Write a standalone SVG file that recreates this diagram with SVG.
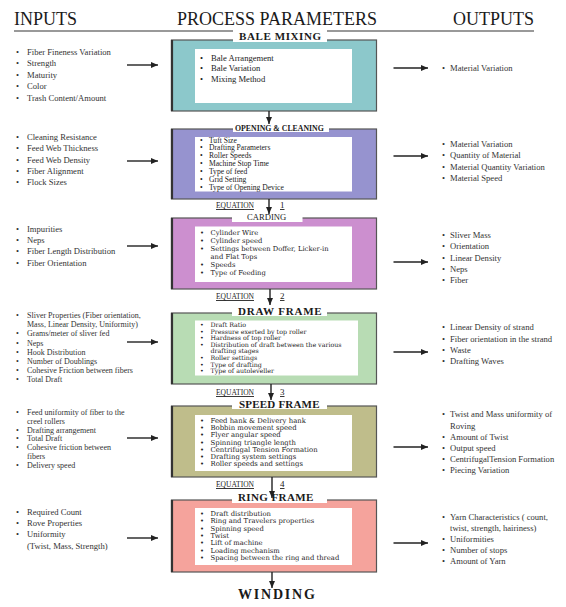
<svg xmlns="http://www.w3.org/2000/svg" width="566" height="607" viewBox="0 0 566 607">
<defs>
<marker id="ah" markerUnits="userSpaceOnUse" markerWidth="7" markerHeight="6" refX="7" refY="3" orient="auto"><path d="M0,0 L7,3 L0,6 z" fill="#222"/></marker>
<style>
.hdr{font-family:"Liberation Serif",serif;font-size:18px;fill:#1a1a1a}
.li{font-family:"Liberation Serif",serif;font-size:8.6px;fill:#333}
.ls{font-family:"Liberation Serif",serif;font-size:8px;fill:#333}
.p1{font-family:"Liberation Serif",serif;font-size:8.6px;fill:#222}
.p2{font-family:"Liberation Serif",serif;font-size:7.6px;fill:#222}
.pd{font-family:"DejaVu Serif",serif;fill:#222}
.lbl{font-family:"Liberation Serif",serif;font-weight:bold;fill:#1a1a1a}
.eq{font-family:"Liberation Serif",serif;font-size:9px;fill:#222;text-decoration:underline}
.box{stroke:#555;stroke-width:1.2}
.edge{stroke:#333;stroke-width:2.2}
.inner{fill:#fff}
.lb{fill:#fff}
.arr{stroke:#222;stroke-width:1.4;fill:none}
</style>
</defs>
<rect width="566" height="607" fill="#fff"/>
<g id="headers">
<text class="hdr" x="14" y="25">INPUTS</text>
<text class="hdr" x="177" y="25">PROCESS PARAMETERS</text>
<text class="hdr" x="453" y="25">OUTPUTS</text>
<line x1="14" y1="31" x2="534" y2="31" stroke="#777" stroke-width="1.5"/>
</g>

<g id="bale-mixing">
<rect class="box" x="171.5" y="40" width="205" height="71" fill="#8cc8cb"/>
<line class="edge" x1="172" y1="40" x2="172" y2="111"/>
<rect class="inner" x="195" y="49" width="157" height="54"/>
<rect class="lb" x="233" y="30" width="94" height="12"/>
<text class="lbl" x="239" y="40" font-size="11" letter-spacing="0.6">BALE MIXING</text>
<text class="p1"><tspan x="200" y="60.5">•</tspan><tspan x="211">Bale Arrangement</tspan></text>
<text class="p1"><tspan x="200" y="71">•</tspan><tspan x="211">Bale Variation</tspan></text>
<text class="p1"><tspan x="200" y="81.5">•</tspan><tspan x="211">Mixing Method</tspan></text>
</g>
<g id="inputs-1">
<text class="li"><tspan x="16" y="54.5">•</tspan><tspan x="27">Fiber Fineness Variation</tspan></text>
<text class="li"><tspan x="16" y="66">•</tspan><tspan x="27">Strength</tspan></text>
<text class="li"><tspan x="16" y="77.5">•</tspan><tspan x="27">Maturity</tspan></text>
<text class="li"><tspan x="16" y="89">•</tspan><tspan x="27">Color</tspan></text>
<text class="li"><tspan x="16" y="100.5">•</tspan><tspan x="27">Trash Content/Amount</tspan></text>
</g>
<g id="outputs-1">
<text class="li"><tspan x="442" y="71">•</tspan><tspan x="450">Material Variation</tspan></text>
</g>

<g id="opening-cleaning">
<rect class="box" x="171.5" y="129" width="205" height="70" fill="#9693cf"/>
<line class="edge" x1="172" y1="129" x2="172" y2="199"/>
<rect class="inner" x="195" y="137" width="157" height="54.5"/>
<rect class="lb" x="233" y="121" width="96" height="11"/>
<text class="lbl" x="235" y="131" font-size="7.8">OPENING &amp; CLEANING</text>
<text class="p2"><tspan x="200" y="142.5">•</tspan><tspan x="209">Tuft Size</tspan></text>
<text class="p2"><tspan x="200" y="150.4">•</tspan><tspan x="209">Drafting Parameters</tspan></text>
<text class="p2"><tspan x="200" y="158.1">•</tspan><tspan x="209">Roller Speeds</tspan></text>
<text class="p2"><tspan x="200" y="165.8">•</tspan><tspan x="209">Machine Stop Time</tspan></text>
<text class="p2"><tspan x="200" y="173.7">•</tspan><tspan x="209">Type of feed</tspan></text>
<text class="p2"><tspan x="200" y="181.8">•</tspan><tspan x="209">Grid Setting</tspan></text>
<text class="p2"><tspan x="200" y="189.5">•</tspan><tspan x="209">Type of Opening Device</tspan></text>
</g>
<g id="inputs-2">
<text class="li"><tspan x="16" y="140">•</tspan><tspan x="27">Cleaning Resistance</tspan></text>
<text class="li"><tspan x="16" y="151.3">•</tspan><tspan x="27">Feed Web Thickness</tspan></text>
<text class="li"><tspan x="16" y="162.6">•</tspan><tspan x="27">Feed Web Density</tspan></text>
<text class="li"><tspan x="16" y="174">•</tspan><tspan x="27">Fiber Alignment</tspan></text>
<text class="li"><tspan x="16" y="185.3">•</tspan><tspan x="27">Flock Sizes</tspan></text>
</g>
<g id="outputs-2">
<text class="li"><tspan x="442" y="147">•</tspan><tspan x="450">Material Variation</tspan></text>
<text class="li"><tspan x="442" y="158.3">•</tspan><tspan x="450">Quantity of Material</tspan></text>
<text class="li"><tspan x="442" y="169.6">•</tspan><tspan x="450">Material Quantity Variation</tspan></text>
<text class="li"><tspan x="442" y="181">•</tspan><tspan x="450">Material Speed</tspan></text>
</g>

<g id="carding">
<rect class="box" x="171.5" y="218" width="205" height="71" fill="#cc8fcf"/>
<line class="edge" x1="172" y1="218" x2="172" y2="289"/>
<rect class="inner" x="195" y="226.5" width="157" height="55.5"/>
<rect class="lb" x="232" y="210" width="70.5" height="12"/>
<text class="p1" x="247" y="219.5" font-size="9">CARDING</text>
<text class="pd" font-size="6.8"><tspan x="200" y="235">•</tspan><tspan x="210.5">Cylinder Wire</tspan></text>
<text class="pd" font-size="6.8"><tspan x="200" y="242.9">•</tspan><tspan x="210.5">Cylinder speed</tspan></text>
<text class="pd" font-size="6.8"><tspan x="200" y="250.8">•</tspan><tspan x="210.5">Settings between Doffer, Licker-in</tspan></text>
<text class="pd" font-size="6.8" x="210.5" y="258.7">and Flat Tops</text>
<text class="pd" font-size="6.8"><tspan x="200" y="266.6">•</tspan><tspan x="210.5">Speeds</tspan></text>
<text class="pd" font-size="6.8"><tspan x="200" y="274.5">•</tspan><tspan x="210.5">Type of Feeding</tspan></text>
</g>
<g id="inputs-3">
<text class="li"><tspan x="16" y="231.5">•</tspan><tspan x="27">Impurities</tspan></text>
<text class="li"><tspan x="16" y="243">•</tspan><tspan x="27">Neps</tspan></text>
<text class="li"><tspan x="16" y="254.3">•</tspan><tspan x="27">Fiber Length Distribution</tspan></text>
<text class="li"><tspan x="16" y="265.6">•</tspan><tspan x="27">Fiber Orientation</tspan></text>
</g>
<g id="outputs-3">
<text class="li"><tspan x="442" y="237.5">•</tspan><tspan x="450">Sliver Mass</tspan></text>
<text class="li"><tspan x="442" y="249">•</tspan><tspan x="450">Orientation</tspan></text>
<text class="li"><tspan x="442" y="260.5">•</tspan><tspan x="450">Linear Density</tspan></text>
<text class="li"><tspan x="442" y="272">•</tspan><tspan x="450">Neps</tspan></text>
<text class="li"><tspan x="442" y="283.3">•</tspan><tspan x="450">Fiber</tspan></text>
</g>

<g id="draw-frame">
<rect class="box" x="171.5" y="313" width="205" height="71" fill="#b8dcb4"/>
<line class="edge" x1="172" y1="313" x2="172" y2="384"/>
<rect class="inner" x="195" y="320.5" width="163" height="55"/>
<rect class="lb" x="232" y="303" width="95" height="13"/>
<text class="lbl" x="238" y="315" font-size="11" letter-spacing="0.8">DRAW FRAME</text>
<text class="pd" font-size="6.3"><tspan x="200" y="327">•</tspan><tspan x="210.5">Draft Ratio</tspan></text>
<text class="pd" font-size="6.3"><tspan x="200" y="333.6">•</tspan><tspan x="210.5">Pressure exerted by top roller</tspan></text>
<text class="pd" font-size="6.3"><tspan x="200" y="340.2">•</tspan><tspan x="210.5">Hardness of top roller</tspan></text>
<text class="pd" font-size="6.3"><tspan x="200" y="346.8">•</tspan><tspan x="210.5">Distribution of draft between the various</tspan></text>
<text class="pd" font-size="6.3" x="210.5" y="353.4">drafting stages</text>
<text class="pd" font-size="6.3"><tspan x="200" y="360">•</tspan><tspan x="210.5">Roller settings</tspan></text>
<text class="pd" font-size="6.3"><tspan x="200" y="366.6">•</tspan><tspan x="210.5">Type of drafting</tspan></text>
<text class="pd" font-size="6.3"><tspan x="200" y="373.2">•</tspan><tspan x="210.5">Type of autoleveller</tspan></text>
</g>
<g id="inputs-4">
<text class="ls"><tspan x="16" y="317.8">•</tspan><tspan x="27">Sliver Properties (Fiber orientation,</tspan></text>
<text class="ls" x="27" y="326.8">Mass, Linear Density, Uniformity)</text>
<text class="ls"><tspan x="16" y="336">•</tspan><tspan x="27">Grams/meter of sliver fed</tspan></text>
<text class="ls"><tspan x="16" y="345.5">•</tspan><tspan x="27">Neps</tspan></text>
<text class="ls"><tspan x="16" y="354.6">•</tspan><tspan x="27">Hook Distribution</tspan></text>
<text class="ls"><tspan x="16" y="363.8">•</tspan><tspan x="27">Number of Doublings</tspan></text>
<text class="ls"><tspan x="16" y="373">•</tspan><tspan x="27">Cohesive Friction between fibers</tspan></text>
<text class="ls"><tspan x="16" y="382">•</tspan><tspan x="27">Total Draft</tspan></text>
</g>
<g id="outputs-4">
<text class="li"><tspan x="442" y="330.3">•</tspan><tspan x="450">Linear Density of strand</tspan></text>
<text class="li"><tspan x="442" y="341.5">•</tspan><tspan x="450">Fiber orientation in the strand</tspan></text>
<text class="li"><tspan x="442" y="352.5">•</tspan><tspan x="450">Waste</tspan></text>
<text class="li"><tspan x="442" y="364">•</tspan><tspan x="450">Drafting Waves</tspan></text>
</g>

<g id="speed-frame">
<rect class="box" x="171.5" y="406" width="205" height="71" fill="#bfbd8b"/>
<line class="edge" x1="172" y1="406" x2="172" y2="477"/>
<rect class="inner" x="195" y="415" width="157" height="56"/>
<rect class="lb" x="232" y="397" width="95" height="12"/>
<text class="lbl" x="239" y="408" font-size="11" letter-spacing="0.2">SPEED FRAME</text>
<text class="pd" font-size="6.9"><tspan x="200" y="423">•</tspan><tspan x="210.5">Feed hank &amp; Delivery hank</tspan></text>
<text class="pd" font-size="6.9"><tspan x="200" y="430.2">•</tspan><tspan x="210.5">Bobbin movement speed</tspan></text>
<text class="pd" font-size="6.9"><tspan x="200" y="437.4">•</tspan><tspan x="210.5">Flyer angular speed</tspan></text>
<text class="pd" font-size="6.9"><tspan x="200" y="444.6">•</tspan><tspan x="210.5">Spinning triangle length</tspan></text>
<text class="pd" font-size="6.9"><tspan x="200" y="451.8">•</tspan><tspan x="210.5">Centrifugal Tension Formation</tspan></text>
<text class="pd" font-size="6.9"><tspan x="200" y="459">•</tspan><tspan x="210.5">Drafting system settings</tspan></text>
<text class="pd" font-size="6.9"><tspan x="200" y="466.2">•</tspan><tspan x="210.5">Roller speeds and settings</tspan></text>
</g>
<g id="inputs-5">
<text class="ls"><tspan x="16" y="415">•</tspan><tspan x="27">Feed uniformity of fiber to the</tspan></text>
<text class="ls" x="27" y="423.8">creel rollers</text>
<text class="ls"><tspan x="16" y="432.6">•</tspan><tspan x="27">Drafting arrangement</tspan></text>
<text class="ls"><tspan x="16" y="441.4">•</tspan><tspan x="27">Total Draft</tspan></text>
<text class="ls"><tspan x="16" y="450.2">•</tspan><tspan x="27">Cohesive friction between</tspan></text>
<text class="ls" x="27" y="459">fibers</text>
<text class="ls"><tspan x="16" y="467.8">•</tspan><tspan x="27">Delivery speed</tspan></text>
</g>
<g id="outputs-5">
<text class="li"><tspan x="442" y="417.3">•</tspan><tspan x="450">Twist and Mass uniformity of</tspan></text>
<text class="li" x="450" y="428.5">Roving</text>
<text class="li"><tspan x="442" y="439.7">•</tspan><tspan x="450">Amount of Twist</tspan></text>
<text class="li"><tspan x="442" y="450.9">•</tspan><tspan x="450">Output speed</tspan></text>
<text class="li"><tspan x="442" y="462">•</tspan><tspan x="450">CentrifugalTension Formation</tspan></text>
<text class="li"><tspan x="442" y="473">•</tspan><tspan x="450">Piecing Variation</tspan></text>
</g>

<g id="ring-frame">
<rect class="box" x="171.5" y="500" width="205" height="72" fill="#f5a39c"/>
<line class="edge" x1="172" y1="500" x2="172" y2="572"/>
<rect class="inner" x="195" y="508" width="157" height="57"/>
<rect class="lb" x="232" y="491" width="95" height="12"/>
<text class="lbl" x="238" y="501" font-size="11" letter-spacing="0.4">RING FRAME</text>
<text class="pd" font-size="6.8"><tspan x="200" y="515.5">•</tspan><tspan x="210.5">Draft distribution</tspan></text>
<text class="pd" font-size="6.8"><tspan x="200" y="523">•</tspan><tspan x="210.5">Ring and Travelers properties</tspan></text>
<text class="pd" font-size="6.8"><tspan x="200" y="530.5">•</tspan><tspan x="210.5">Spinning speed</tspan></text>
<text class="pd" font-size="6.8"><tspan x="200" y="538">•</tspan><tspan x="210.5">Twist</tspan></text>
<text class="pd" font-size="6.8"><tspan x="200" y="545.2">•</tspan><tspan x="210.5">Lift of machine</tspan></text>
<text class="pd" font-size="6.8"><tspan x="200" y="552.5">•</tspan><tspan x="210.5">Loading mechanism</tspan></text>
<text class="pd" font-size="6.8"><tspan x="200" y="560">•</tspan><tspan x="210.5">Spacing between the ring and thread</tspan></text>
</g>
<g id="inputs-6">
<text class="li"><tspan x="16" y="514.7">•</tspan><tspan x="27">Required Count</tspan></text>
<text class="li"><tspan x="16" y="526">•</tspan><tspan x="27">Rove Properties</tspan></text>
<text class="li"><tspan x="16" y="537.3">•</tspan><tspan x="27">Uniformity</tspan></text>
<text class="li" x="27" y="548.6">(Twist, Mass, Strength)</text>
</g>
<g id="outputs-6">
<text class="li"><tspan x="442" y="519.7">•</tspan><tspan x="450">Yarn Characteristics ( count,</tspan></text>
<text class="li" x="450" y="530.6">twist, strength, hairiness)</text>
<text class="li"><tspan x="442" y="541.5">•</tspan><tspan x="450">Uniformities</tspan></text>
<text class="li"><tspan x="442" y="552.5">•</tspan><tspan x="450">Number of stops</tspan></text>
<text class="li"><tspan x="442" y="563.6">•</tspan><tspan x="450">Amount of Yarn</tspan></text>
</g>

<g id="winding">
<text class="lbl" x="238" y="599" font-size="14" letter-spacing="1.8">WINDING</text>
</g>

<g id="connectors">
<line class="arr" x1="127" y1="65" x2="158" y2="65" marker-end="url(#ah)"/>
<line class="arr" x1="393.5" y1="68" x2="428" y2="68" marker-end="url(#ah)"/>
<line class="arr" x1="127" y1="161" x2="158" y2="161" marker-end="url(#ah)"/>
<line class="arr" x1="393.5" y1="156" x2="428" y2="156" marker-end="url(#ah)"/>
<line class="arr" x1="127" y1="246" x2="158" y2="246" marker-end="url(#ah)"/>
<line class="arr" x1="393.5" y1="262" x2="428" y2="262" marker-end="url(#ah)"/>
<line class="arr" x1="127" y1="342" x2="158" y2="342" marker-end="url(#ah)"/>
<line class="arr" x1="393.5" y1="352" x2="428" y2="352" marker-end="url(#ah)"/>
<line class="arr" x1="127" y1="438" x2="158" y2="438" marker-end="url(#ah)"/>
<line class="arr" x1="393.5" y1="447" x2="428" y2="447" marker-end="url(#ah)"/>
<line class="arr" x1="127" y1="538" x2="158" y2="538" marker-end="url(#ah)"/>
<line class="arr" x1="393.5" y1="543" x2="428" y2="543" marker-end="url(#ah)"/>
<line class="arr" x1="269" y1="111" x2="269" y2="124" marker-end="url(#ah)"/>
<line class="arr" x1="269" y1="199" x2="269" y2="214" marker-end="url(#ah)"/>
<line class="arr" x1="270" y1="289" x2="270" y2="305" marker-end="url(#ah)"/>
<line class="arr" x1="271" y1="384" x2="271" y2="400" marker-end="url(#ah)"/>
<line class="arr" x1="272" y1="477" x2="272" y2="498" marker-end="url(#ah)"/>
<line class="arr" x1="272" y1="572" x2="272" y2="588" marker-end="url(#ah)"/>
<text class="eq" x="216" y="208" textLength="38" lengthAdjust="spacingAndGlyphs">EQUATION</text>
<text class="eq" x="280" y="208">1</text>
<text class="eq" x="216" y="299" textLength="38" lengthAdjust="spacingAndGlyphs">EQUATION</text>
<text class="eq" x="280" y="299">2</text>
<text class="eq" x="216" y="395" textLength="38" lengthAdjust="spacingAndGlyphs">EQUATION</text>
<text class="eq" x="280" y="395">3</text>
<text class="eq" x="216" y="487" textLength="38" lengthAdjust="spacingAndGlyphs">EQUATION</text>
<text class="eq" x="280" y="487">4</text>
</g>
</svg>
